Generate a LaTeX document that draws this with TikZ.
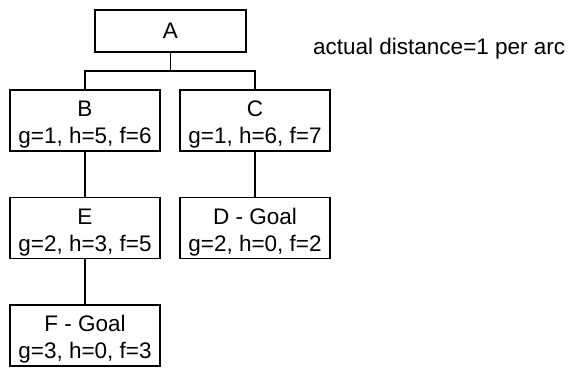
\documentclass[tikz,border=0pt]{standalone}
\usepackage{fontspec}
\setmainfont{Liberation Sans}
\usetikzlibrary{calc}
\newcommand\twolines[2]{\raisebox{-4.5pt}[\height][\depth]{\begin{tabular}{@{}c@{}}#1\\#2\end{tabular}}}
\begin{document}
\begin{tikzpicture}[x=1pt,y=-1pt,
  every node/.style={font=\fontsize{22.5}{27}\selectfont},
  box/.style={draw, line width=1.1pt, inner sep=0pt, align=center, minimum width=150pt, minimum height=61pt},
  conn/.style={line width=1.1pt}]
\useasboundingbox (0,0) rectangle (569,371);
\node[box, minimum width=151pt, minimum height=42pt] (A) at (170.5,31) {A};
\node[box] (B) at (85,120.5) {\twolines{B}{g=1, h=5, f=6}};
\node[box] (C) at (255,120.5) {\twolines{C}{g=1, h=6, f=7}};
\node[box] (E) at (85,228) {\twolines{E}{g=2, h=3, f=5}};
\node[box] (D) at (255,228) {\twolines{D - Goal}{g=2, h=0, f=2}};
\node[box] (F) at (85,335.5) {\twolines{F - Goal}{g=3, h=0, f=3}};
\node[anchor=base west, inner sep=0pt] (note) at (313,55) {actual distance=1 per arc};
\coordinate (bar) at ($(A.south)!0.5!(A.south |- B.north)$);
\draw[conn] (A.south) -- (bar);
\draw[conn] (B.north) |- (bar) -| (C.north);
\draw[conn] (B.south) -- (E.north);
\draw[conn] (C.south) -- (D.north);
\draw[conn] (E.south) -- (F.north);
\end{tikzpicture}
\end{document}
